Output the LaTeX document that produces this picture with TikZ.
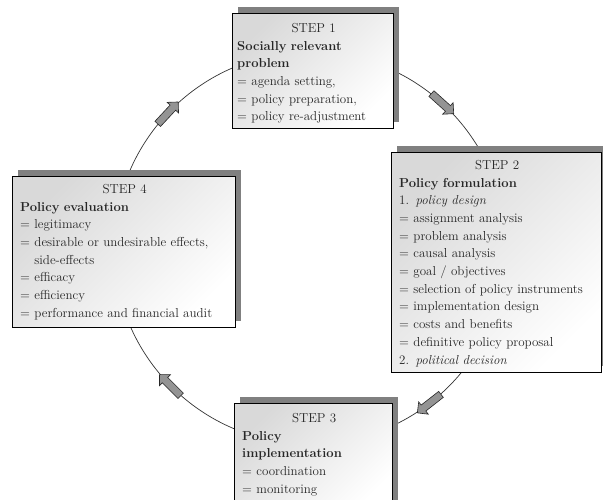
\documentclass[tikz,border=0pt]{standalone}
\usepackage{tikz}
\usetikzlibrary{shapes.arrows, shadows}

\begin{document}
\begin{tikzpicture}
  [
    x=1pt, y=1pt,
    stepbox/.style={draw=black, line width=0.8pt, top color=black!15, bottom color=white,
      shading angle=45, anchor=north west, inner sep=0pt,
      drop shadow={shadow xshift=6pt, shadow yshift=6pt, fill=black!50, opacity=1}},
    steptext/.style={anchor=north west, inner sep=0pt, align=left, text=black!85,
      font=\fontsize{13}{17.7}\selectfont},
    turn/.style={single arrow, draw=black!85, fill=black!42, line width=0.6pt,
      minimum height=30pt, inner xsep=0pt, inner ysep=3.5pt,
      single arrow head extend=4pt}
  ]
  \useasboundingbox (0,0) rectangle (603,499);
  \clip (0,0) rectangle (603,499);
  % cycle
  \coordinate (c) at (310,251);
  \draw [black!80, line width=0.7pt] (c) circle (196);
  \foreach \a/\r/\n in {137/47/1, 48/-42/2, -52/-142/3, -135/135/4} {
    \node [turn, rotate=\r] (arr\n) at ([shift={(\a:196)}]c) {};
  }
  % step 1
  \node [stepbox, minimum width=161pt, minimum height=115pt] (s1) at (232,486) {};
  \node [steptext, text width=153pt] (t1) at ([shift={(5,-10)}]s1.north west) {%
    {\centering STEP 1\par}
    \textbf{Socially relevant}\\
    \textbf{problem}\\
    = agenda setting,\\
    = policy preparation,\\
    = policy re-adjustment};
  % step 2
  \node [stepbox, minimum width=210pt, minimum height=220pt] (s2) at (391,347) {};
  \node [steptext, text width=196pt] (t2) at ([shift={(8,-8)}]s2.north west) {%
    {\centering STEP 2\par}
    \textbf{Policy formulation}\\
    1. \textit{policy design}\\
    = assignment analysis\\
    = problem analysis\\
    = causal analysis\\
    = goal / objectives\\
    = selection of policy instruments\\
    = implementation design\\
    = costs and benefits\\
    = definitive policy proposal\\
    2. \textit{political decision}};
  % step 3
  \node [stepbox, minimum width=158pt, minimum height=110pt] (s3) at (234,96) {};
  \node [steptext, text width=144pt] (t3) at ([shift={(8,-10)}]s3.north west) {%
    {\centering STEP 3\par}
    \textbf{Policy}\\
    \textbf{implementation}\\
    = coordination\\
    = monitoring};
  % step 4
  \node [stepbox, minimum width=223pt, minimum height=151pt] (s4) at (12,323) {};
  \node [steptext, text width=209pt] (t4) at ([shift={(8,-8)}]s4.north west) {%
    {\centering STEP 4\par}
    \textbf{Policy evaluation}\\
    = legitimacy\\
    = desirable or undesirable effects,\\
    \hphantom{= }side-effects\\
    = efficacy\\
    = efficiency\\
    = performance and financial audit};
\end{tikzpicture}
\end{document}
